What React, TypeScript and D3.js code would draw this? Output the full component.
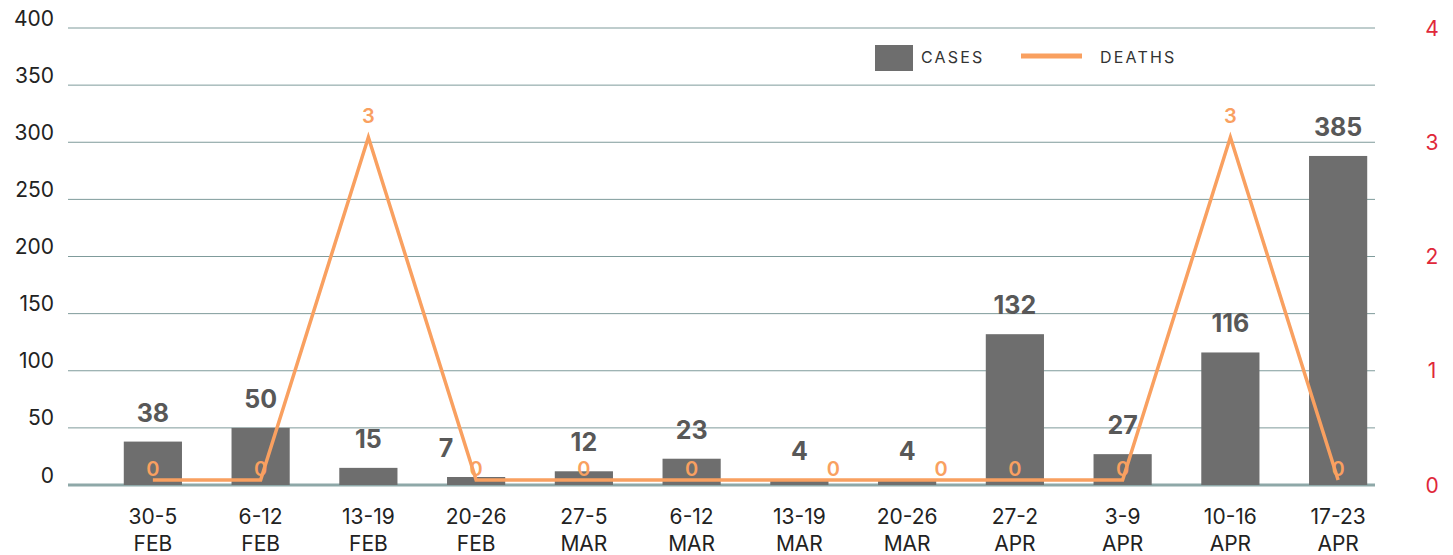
import React from "react";
import * as d3 from "d3";

const weeks = ["30-5", "6-12", "13-19", "20-26", "27-5", "6-12", "13-19", "20-26", "27-2", "3-9", "10-16", "17-23"];
const months = ["FEB", "FEB", "FEB", "FEB", "MAR", "MAR", "MAR", "MAR", "APR", "APR", "APR", "APR"];
const cases = [38, 50, 15, 7, 12, 23, 4, 4, 132, 27, 116, 288];
const caseLabels = ["38", "50", "15", "7", "12", "23", "4", "4", "132", "27", "116", "385"];
const deaths = [0, 0, 3, 0, 0, 0, 0, 0, 0, 0, 3, 0];
const leftTicks = [0, 50, 100, 150, 200, 250, 300, 350, 400];
const rightTicks = [0, 1, 2, 3, 4];

const W = 1453;
const H = 555;
const FONT = "Inter, 'DejaVu Sans', sans-serif";

export default function App() {
  const keys = weeks.map((w, i) => `${w} ${months[i]}`);
  const x = d3.scaleBand<string>().domain(keys).range([99, 1392]).paddingInner(0.46).paddingOuter(0.23);
  const y = d3.scaleLinear().domain([0, 400]).range([485, 28]);
  const yR = d3.scaleLinear().domain([0, 4]).range([485, 28]);
  const cx = (i: number) => (x(keys[i]) as number) + x.bandwidth() / 2;

  const line = d3
    .line<number>()
    .x((_, i) => cx(i))
    .y((d) => yR(d) - 5);

  const caseLabelY = (i: number) => y(cases[i]) - 29;
  const deathLabelY = (i: number) => (deaths[i] > 0 ? yR(deaths[i]) - 26 : yR(deaths[i]) - 16);
  const clash = (i: number) => Math.abs(caseLabelY(i) - deathLabelY(i)) < 22;

  return (
    <div style={{ position: "absolute", left: 0, top: 0 }}>
      <svg width={W} height={H} style={{ display: "block", background: "#fff" }}>
        {leftTicks.map((t) => (
          <g key={t}>
            <line
              x1={68}
              x2={1375}
              y1={y(t)}
              y2={y(t)}
              stroke={t === 0 ? "#8ea8a8" : "#7f9b9b"}
              strokeWidth={t === 0 ? 3 : 1}
            />
            <text x={54} y={y(t) - 10} textAnchor="end" dominantBaseline="central" fontFamily={FONT} fontSize={21} fill="#222">
              {t}
            </text>
          </g>
        ))}
        {rightTicks.map((t) => (
          <text key={t} x={1432} y={yR(t)} textAnchor="middle" dominantBaseline="central" fontFamily={FONT} fontSize={21} fill="#e0283a">
            {t}
          </text>
        ))}
        {cases.map((c, i) => (
          <rect key={i} x={x(keys[i])} y={y(c)} width={x.bandwidth()} height={y(0) - y(c)} fill="#6e6e6e" />
        ))}
        {cases.map((c, i) => (
          <text
            key={i}
            x={cx(i) - (clash(i) && cases[i] > 5 ? 30 : 0)}
            y={caseLabelY(i)}
            textAnchor="middle"
            dominantBaseline="central"
            fontFamily={FONT}
            fontWeight={700}
            fontSize={25}
            fill="#585858"
          >
            {caseLabels[i]}
          </text>
        ))}
        <path d={line(deaths) as string} fill="none" stroke="#f9a060" strokeWidth={3.5} strokeLinejoin="miter" />
        {deaths.map((d, i) => (
          <text
            key={i}
            x={cx(i) + (clash(i) && cases[i] <= 5 ? 34 : 0)}
            y={deathLabelY(i)}
            textAnchor="middle"
            dominantBaseline="central"
            fontFamily={FONT}
            fontWeight={600}
            fontSize={20}
            fill="#f9a060"
          >
            {d}
          </text>
        ))}
        {weeks.map((w, i) => (
          <g key={i}>
            <text x={cx(i)} y={516} textAnchor="middle" dominantBaseline="central" fontFamily={FONT} fontSize={21} fill="#222">
              {w}
            </text>
            <text x={cx(i)} y={543} textAnchor="middle" dominantBaseline="central" fontFamily={FONT} fontSize={21} fill="#222">
              {months[i]}
            </text>
          </g>
        ))}
        <rect x={875} y={45} width={38} height={26} fill="#6e6e6e" />
        <text x={921} y={57} dominantBaseline="central" fontFamily={FONT} fontSize={16} letterSpacing={2.2} fill="#333">
          CASES
        </text>
        <line x1={1021} x2={1082} y1={56} y2={56} stroke="#f9a060" strokeWidth={5} />
        <text x={1100} y={57} dominantBaseline="central" fontFamily={FONT} fontSize={16} letterSpacing={2.2} fill="#333">
          DEATHS
        </text>
      </svg>
    </div>
  );
}
